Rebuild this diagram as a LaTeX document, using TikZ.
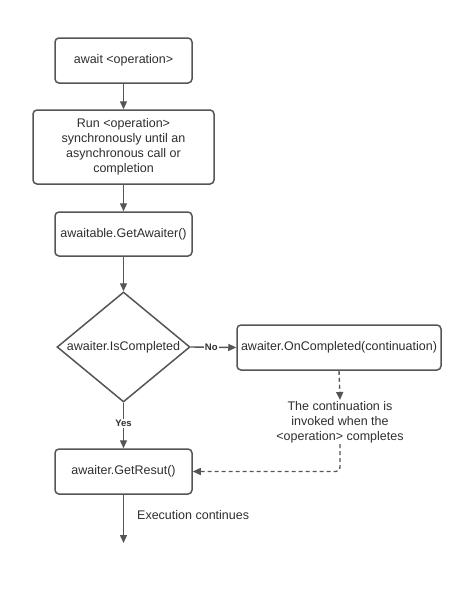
\documentclass[tikz,border=0pt]{standalone}
\usepackage{fontspec}
\setmainfont{Liberation Sans}
\usetikzlibrary{arrows.meta,shapes.geometric}
\definecolor{ln}{HTML}{555555}
\definecolor{tx}{HTML}{2E2E2E}
\tikzset{
  box/.style={draw=ln, line width=1.5pt, rounded corners=4pt, fill=white, text=tx,
    font=\fontsize{12.5}{15}\selectfont, align=center, inner sep=2pt},
  dia/.style={draw=ln, line width=1.5pt, diamond, aspect=1.2, text=tx,
    font=\fontsize{12.5}{15}\selectfont, inner sep=0pt},
  conn/.style={draw=ln, line width=1.4pt, -{Triangle[length=8pt,width=7pt]}},
  dconn/.style={conn, dash pattern=on 4pt off 3pt},
  lbl/.style={text=tx, font=\bfseries\fontsize{9.5}{11}\selectfont, fill=white, inner sep=1pt},
  plain/.style={text=tx, font=\fontsize{12.5}{15}\selectfont, align=center, inner sep=1pt}
}
\begin{document}
\begin{tikzpicture}[x=1pt,y=-1pt]
\useasboundingbox (0,0) rectangle (474,589);
\node[box, minimum width=137pt, minimum height=45pt] (aw) at (123.5,60.5) {await <operation>};
\node[box, minimum width=181pt, minimum height=74pt] (run) at (123.5,147) {Run <operation>\\synchronously until an\\asynchronous call or\\completion};
\node[box, minimum width=137pt, minimum height=44pt] (ga) at (123.5,234) {awaitable.GetAwaiter()};
\node[dia, minimum width=133pt, minimum height=110pt] (ic) at (123.5,347) {awaiter.IsCompleted};
\node[box, minimum width=204pt, minimum height=45pt] (onc) at (339,347.5) {awaiter.OnCompleted(continuation)};
\node[plain] (cont) at (340,422) {The continuation is\\invoked when the\\<operation> completes};
\node[box, minimum width=137pt, minimum height=45pt] (res) at (123.5,471.5) {awaiter.GetResut()};
\coordinate (end) at (123.5,543);
\node[plain, anchor=west] (exe) at (136,515) {Execution continues};

\draw[conn] (aw) -- (run);
\draw[conn] (run) -- (ga);
\draw[conn] (ga) -- (ic.north);
\draw[conn] (ic.east) -- node[lbl, pos=0.45] {No} (onc.west);
\draw[conn] (ic.south) -- node[lbl, pos=0.45] {Yes} (res.north);
\draw[dconn] (onc.south) -- (cont.north);
\draw[dconn, rounded corners=4pt] (cont.south) -- (cont.south |- res.east) -- (res.east);
\draw[conn] (res.south) -- (end);
\end{tikzpicture}
\end{document}
